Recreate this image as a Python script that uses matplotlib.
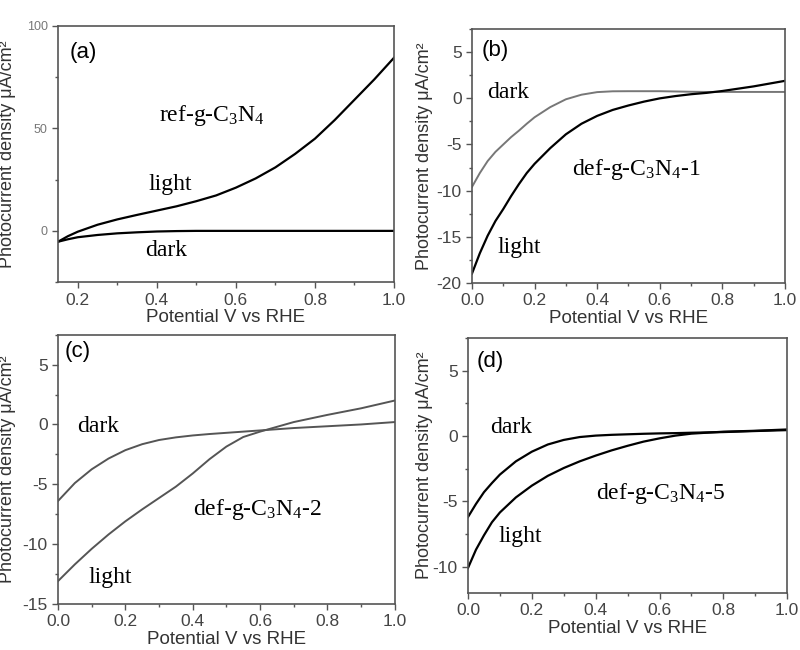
import matplotlib
matplotlib.use("Agg")
import matplotlib.pyplot as plt
from matplotlib.ticker import MultipleLocator, FormatStrFormatter

plt.rcParams['font.family'] = ['Liberation Sans', 'DejaVu Sans']
plt.rcParams['mathtext.default'] = 'regular'
plt.rcParams['axes.unicode_minus'] = False

# ---- data ----
# (a) ref-g-C3N4
a_v = [0.15, 0.175, 0.2, 0.25, 0.3, 0.35, 0.4, 0.45, 0.5, 0.55, 0.6, 0.65, 0.7, 0.75, 0.8, 0.85, 0.9, 0.95, 1.0]
a_light = [-5.3, -2.6, -0.4, 3.0, 5.6, 7.8, 9.9, 12.0, 14.5, 17.3, 21.1, 25.6, 31.0, 37.6, 45.0, 54.1, 64.0, 73.9, 84.5]
a_dark = [-5.3, -4.1, -3.1, -2.0, -1.2, -0.7, -0.3, -0.1, 0.0, 0.0, 0.0, 0.0, 0.0, 0.0, 0.0, 0.0, 0.0, 0.0, 0.0]

# (b) def-g-C3N4-1
b_v = [0.0, 0.025, 0.05, 0.075, 0.1, 0.125, 0.15, 0.175, 0.2, 0.25, 0.3, 0.35, 0.4, 0.45, 0.5,
       0.55, 0.6, 0.65, 0.7, 0.75, 0.8, 0.9, 1.0]
b_dark = [-9.6, -8.1, -6.8, -5.8, -5.0, -4.2, -3.5, -2.75, -2.05, -0.95, -0.1, 0.4, 0.68, 0.77, 0.78,
          0.78, 0.78, 0.75, 0.72, 0.7, 0.7, 0.7, 0.7]
b_light = [-19.0, -16.8, -14.9, -13.3, -12.0, -10.6, -9.3, -8.1, -7.1, -5.4, -3.9, -2.75, -1.9, -1.25, -0.77,
           -0.35, 0.0, 0.25, 0.45, 0.6, 0.8, 1.3, 1.9]

# (c) def-g-C3N4-2
c_v = [0.0, 0.05, 0.1, 0.15, 0.2, 0.25, 0.3, 0.35, 0.4, 0.45, 0.5, 0.55, 0.6, 0.65, 0.7, 0.8, 0.9, 1.0]
c_dark = [-6.4, -4.9, -3.75, -2.85, -2.15, -1.65, -1.3, -1.08, -0.92, -0.8, -0.7, -0.6, -0.5, -0.4, -0.3, -0.15, 0.0, 0.2]
c_light = [-13.1, -11.7, -10.4, -9.2, -8.1, -7.1, -6.15, -5.2, -4.1, -2.9, -1.85, -1.05, -0.6, -0.2, 0.2, 0.8, 1.35, 2.0]

# (d) def-g-C3N4-5
d_v = [0.0, 0.025, 0.05, 0.075, 0.1, 0.15, 0.2, 0.25, 0.3, 0.35, 0.4, 0.45, 0.5, 0.55, 0.6, 0.65, 0.7, 0.8, 0.9, 1.0]
d_dark = [-6.2, -5.2, -4.3, -3.6, -2.95, -1.94, -1.2, -0.65, -0.3, -0.08, 0.03, 0.09, 0.13, 0.17, 0.2, 0.22, 0.25, 0.3, 0.38, 0.45]
d_light = [-10.1, -8.7, -7.6, -6.6, -5.85, -4.7, -3.8, -3.05, -2.45, -1.94, -1.5, -1.1, -0.75, -0.43, -0.18, 0.03, 0.18, 0.33, 0.4, 0.5]

fig = plt.figure(figsize=(8, 6.5), dpi=100)

ax_a = fig.add_axes([0.0725, 0.566, 0.42, 0.394])
ax_b = fig.add_axes([0.59, 0.565, 0.391, 0.390])
ax_c = fig.add_axes([0.0725, 0.071, 0.421, 0.414])
ax_d = fig.add_axes([0.585, 0.088, 0.399, 0.392])

serif = ['Liberation Serif', 'DejaVu Serif']
tick_col = '#444444'
lab_col = '#333333'


def style(ax, ylim, ymaj, ymin, xlim, ytick_size=12.5, ytick_col=tick_col):
    ax.set_xlim(*xlim)
    ax.set_ylim(*ylim)
    ax.xaxis.set_major_locator(MultipleLocator(0.2))
    ax.xaxis.set_minor_locator(MultipleLocator(0.1))
    ax.xaxis.set_major_formatter(FormatStrFormatter('%.1f'))
    ax.yaxis.set_major_locator(MultipleLocator(ymaj))
    ax.yaxis.set_minor_locator(MultipleLocator(ymin))
    ax.yaxis.set_major_formatter(FormatStrFormatter('%d'))
    ax.tick_params(which='both', direction='out', color='#555555', width=1)
    ax.tick_params(which='major', length=4)
    ax.tick_params(which='minor', length=2.5)
    ax.tick_params(axis='x', labelsize=12.5, labelcolor=tick_col)
    ax.tick_params(axis='y', labelsize=ytick_size, labelcolor=ytick_col)
    for s in ax.spines.values():
        s.set_color('#555555')
        s.set_linewidth(1.2)
    ax.set_xlabel('Potential V vs RHE', fontsize=13.5, color=lab_col, labelpad=1)
    ax.set_ylabel('Photocurrent density μA/cm²', fontsize=13, color=lab_col)


def sub(name):
    return name.replace('C3N4', 'C$_3$N$_4$')


# (a)
ax_a.plot(a_v, a_light, color='black', lw=1.6)
ax_a.plot(a_v, a_dark, color='black', lw=1.6)
style(ax_a, (-25, 100), 50, 25, (0.15, 1.0), ytick_size=9, ytick_col='#777777')
ax_a.text(0.036, 0.895, '(a)', transform=ax_a.transAxes, fontsize=16, va='center')
ax_a.text(0.30, 0.65, sub('ref-g-C3N4'), transform=ax_a.transAxes, fontsize=17, family=serif, va='center')
ax_a.text(0.27, 0.38, 'light', transform=ax_a.transAxes, fontsize=17, family=serif, va='center')
ax_a.text(0.26, 0.125, 'dark', transform=ax_a.transAxes, fontsize=17, family=serif, va='center')
ax_a.yaxis.set_label_coords(-0.125, 0.5)

# (b)
ax_b.plot(b_v, b_dark, color='#777777', lw=1.4)
ax_b.plot(b_v, b_light, color='black', lw=1.6)
style(ax_b, (-20, 7.5), 5, 2.5, (0.0, 1.0))
ax_b.text(0.03, 0.917, '(b)', transform=ax_b.transAxes, fontsize=16, va='center')
ax_b.text(0.048, 0.75, 'dark', transform=ax_b.transAxes, fontsize=17, family=serif, va='center')
ax_b.text(0.32, 0.445, sub('def-g-C3N4-1'), transform=ax_b.transAxes, fontsize=17, family=serif, va='center')
ax_b.text(0.08, 0.14, 'light', transform=ax_b.transAxes, fontsize=17, family=serif, va='center')
ax_b.yaxis.set_label_coords(-0.125, 0.5)

# (c)
ax_c.plot(c_v, c_dark, color='#555555', lw=1.4)
ax_c.plot(c_v, c_light, color='#555555', lw=1.4)
style(ax_c, (-15, 7.5), 5, 2.5, (0.0, 1.0))
ax_c.text(0.02, 0.937, '(c)', transform=ax_c.transAxes, fontsize=16, va='center')
ax_c.text(0.056, 0.66, 'dark', transform=ax_c.transAxes, fontsize=17, family=serif, va='center')
ax_c.text(0.40, 0.35, sub('def-g-C3N4-2'), transform=ax_c.transAxes, fontsize=17, family=serif, va='center')
ax_c.text(0.09, 0.097, 'light', transform=ax_c.transAxes, fontsize=17, family=serif, va='center')
ax_c.yaxis.set_label_coords(-0.125, 0.5)

# (d)
ax_d.plot(d_v, d_dark, color='black', lw=1.6)
ax_d.plot(d_v, d_light, color='black', lw=1.6)
style(ax_d, (-12, 7.5), 5, 2.5, (0.0, 1.0))
ax_d.text(0.028, 0.906, '(d)', transform=ax_d.transAxes, fontsize=16, va='center')
ax_d.text(0.069, 0.65, 'dark', transform=ax_d.transAxes, fontsize=17, family=serif, va='center')
ax_d.text(0.40, 0.39, sub('def-g-C3N4-5'), transform=ax_d.transAxes, fontsize=17, family=serif, va='center')
ax_d.text(0.094, 0.22, 'light', transform=ax_d.transAxes, fontsize=17, family=serif, va='center')
ax_d.yaxis.set_label_coords(-0.11, 0.5)

fig.savefig('out.png', dpi=100)
